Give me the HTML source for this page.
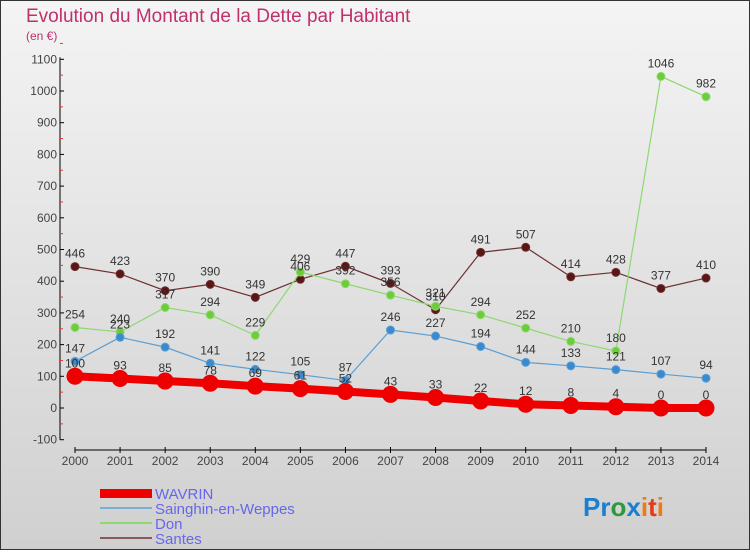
<!DOCTYPE html>
<html><head><meta charset="utf-8"><style>
body{margin:0;width:750px;height:550px;overflow:hidden;font-family:"Liberation Sans",sans-serif}
svg text{font-family:"Liberation Sans",sans-serif}
</style></head><body>
<svg id="c" width="750" height="550" xmlns="http://www.w3.org/2000/svg">
<defs><linearGradient id="bg" x1="0" y1="0" x2="0" y2="1"><stop offset="0" stop-color="#f4f4f4"/><stop offset="1" stop-color="#d0d0d0"/></linearGradient></defs>
<rect x="0.5" y="0.5" width="749" height="549" fill="url(#bg)" stroke="#333"/>
<text x="26" y="22" font-size="19" fill="#c0306a">Evolution du Montant de la Dette par Habitant</text>
<text x="26" y="40" font-size="12" fill="#c0306a">(en €)</text>
<g id="axes"></g><g id="series"></g><g id="labels"></g>
<g>
<rect x="100" y="489" width="52" height="9" fill="#e00"/>
<text x="155" y="499" font-size="15" fill="#6666ee">WAVRIN</text>
<line x1="100" y1="508" x2="152" y2="508" stroke="#7aaed4" stroke-width="2"/>
<text x="155" y="514" font-size="15" fill="#6666ee">Sainghin-en-Weppes</text>
<line x1="100" y1="523" x2="152" y2="523" stroke="#8ed870" stroke-width="2"/>
<text x="155" y="529" font-size="15" fill="#6666ee">Don</text>
<line x1="100" y1="538" x2="152" y2="538" stroke="#8a5a5a" stroke-width="2"/>
<text x="155" y="544" font-size="15" fill="#6666ee">Santes</text>
</g>
<text x="583" y="516" font-size="26" font-weight="bold"><tspan fill="#1a7fd0">Pr</tspan><tspan fill="#2a9a3a">o</tspan><tspan fill="#1a7fd0">x</tspan><tspan fill="#f07a10">i</tspan><tspan fill="#e23a1a">t</tspan><tspan fill="#f07a10">i</tspan></text>
</svg>
<script>
const years=[2000,2001,2002,2003,2004,2005,2006,2007,2008,2009,2010,2011,2012,2013,2014];
const wavrin=[100,93,85,78,69,61,52,43,33,22,12,8,4,0,0];
const sainghin=[147,223,192,141,122,105,87,246,227,194,144,133,121,107,94];
const don=[254,240,317,294,229,429,392,356,321,294,252,210,180,1046,982];
const santes=[446,423,370,390,349,406,447,393,310,491,507,414,428,377,410];
const yTicks=[-100,0,100,200,300,400,500,600,700,800,900,1000,1100];
const NS="http://www.w3.org/2000/svg";
const x=i=>75+i*(706-75)/(years.length-1);
const y=v=>408-v*(408-91)/1000;
function mk(t,a,p){const e=document.createElementNS(NS,t);for(const k in a)e.setAttribute(k,a[k]);p.appendChild(e);return e;}
const ax=document.getElementById('axes');
let yl=mk('line',{x1:60,y1:y(1100)-2,x2:60,y2:y(-100)},ax);


yl.setAttribute('stroke','#000');
yTicks.forEach(v=>{
 mk('line',{x1:60,x2:64,y1:y(v),y2:y(v),stroke:'#000'},ax);
 mk('line',{x1:60,x2:63,y1:y(v+50),y2:y(v+50),stroke:'#e33'},ax);
 const t=mk('text',{x:57,y:y(v)+4,'font-size':12,fill:'#444','text-anchor':'end'},ax);
 t.textContent=v;
 
 
});
let xl=mk('line',{x1:75,x2:706,y1:450,y2:450,stroke:'#000'},ax);


years.forEach((yr,i)=>{
 mk('line',{x1:x(i),x2:x(i),y1:447,y2:453,stroke:'#000'},ax);
 const t=mk('text',{x:x(i),y:465,'font-size':12,fill:'#444','text-anchor':'middle'},ax);
 t.textContent=yr;
 
 
});
const sg=document.getElementById('series'),lg=document.getElementById('labels');
function draw(d,name,col,dot,w,r){
 const g=mk('g',{},sg);
 
 
 mk('polyline',{points:d.map((v,i)=>x(i)+','+y(v)).join(' '),fill:'none',stroke:col,'stroke-width':w},g);
 d.forEach((v,i)=>{
  const c=mk('circle',{cx:x(i),cy:y(v),r:r,fill:dot,stroke:col,'stroke-width':1},g);
  
  
  const t=mk('text',{x:x(i),y:y(v)-9,'font-size':12,fill:'#333','text-anchor':'middle'},lg);
  t.textContent=v;
 });
}
draw(santes,'santes','#6e3030','#5a1515',1.2,4);
draw(don,'don','#8ed870','#6ccc3a',1.2,4);
draw(sainghin,'sainghin','#5a9ed4','#3a8ad0',1.2,4);
draw(wavrin,'wavrin','#e00','#e00',8,8);
</script>
</body></html>
